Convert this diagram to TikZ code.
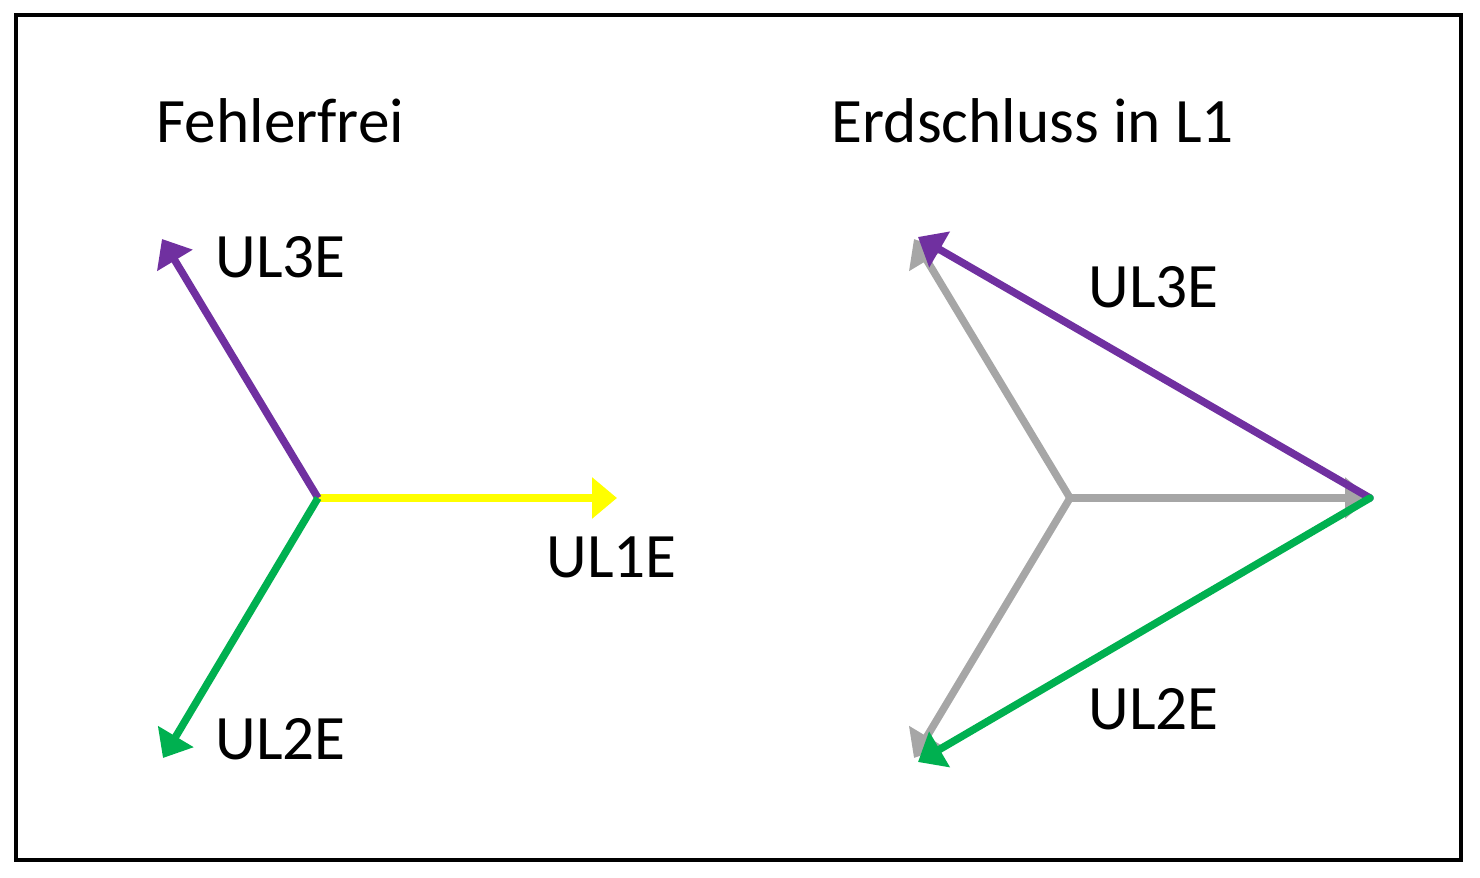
\documentclass[tikz,border=0pt]{standalone}
\usepackage{fontspec}
\setmainfont{Carlito}
\usetikzlibrary{arrows.meta}
\definecolor{lila}{RGB}{112,48,160}
\definecolor{gruen}{RGB}{0,176,80}
\definecolor{gelb}{RGB}{255,255,0}
\definecolor{grau}{RGB}{166,166,166}
\begin{document}
\begin{tikzpicture}[x=1cm,y=1cm,
    zeiger/.style={line width=0.075cm,-{Triangle[length=0.25cm,width=0.40cm]}},
    txt/.style={font=\fontsize{18pt}{20pt}\selectfont,inner sep=0pt,anchor=base west}]
    \useasboundingbox (0,0) rectangle (14.8,8.77);
    \draw[line width=0.035cm] (0.16,0.17) rectangle (14.61,8.62);
    
    % fehlerfrei
    \coordinate (N) at (3.18,3.79);
    \coordinate (L1) at (6.17,3.79);
    \coordinate (L3) at (1.62,6.38);
    \coordinate (L2) at (1.63,1.19);
    \draw[zeiger,gelb] (N) -- (L1);
    \draw[zeiger,lila] (N) -- (L3);
    \draw[zeiger,gruen] (N) -- (L2);
    \node[txt] (t1) at (1.56,7.34) {Fehlerfrei};
    \node[txt] (a3) at (2.15,5.99) {UL3E};
    \node[txt] (a1) at (5.46,2.99) {UL1E};
    \node[txt] (a2) at (2.15,1.17) {UL2E};
    
    % erdschluss in L1
    \coordinate (M) at (10.70,3.79);
    \coordinate (E1) at (13.70,3.79);
    \coordinate (E3) at (9.14,6.38);
    \coordinate (E2) at (9.14,1.19);
    \draw[zeiger,grau] (M) -- (E1);
    \draw[zeiger,grau] (M) -- (E3);
    \draw[zeiger,grau] (M) -- (E2);
    \coordinate (F3) at (9.18,6.40);
    \coordinate (F2) at (9.18,1.15);
    \draw[zeiger,lila,line cap=round] (E1) -- (F3);
    \draw[zeiger,gruen,line cap=round] (E1) -- (F2);
    \node[txt] (t2) at (8.31,7.34) {Erdschluss in L1};
    \node[txt] (b3) at (10.88,5.69) {UL3E};
    \node[txt] (b2) at (10.88,1.47) {UL2E};
\end{tikzpicture}
\end{document}
